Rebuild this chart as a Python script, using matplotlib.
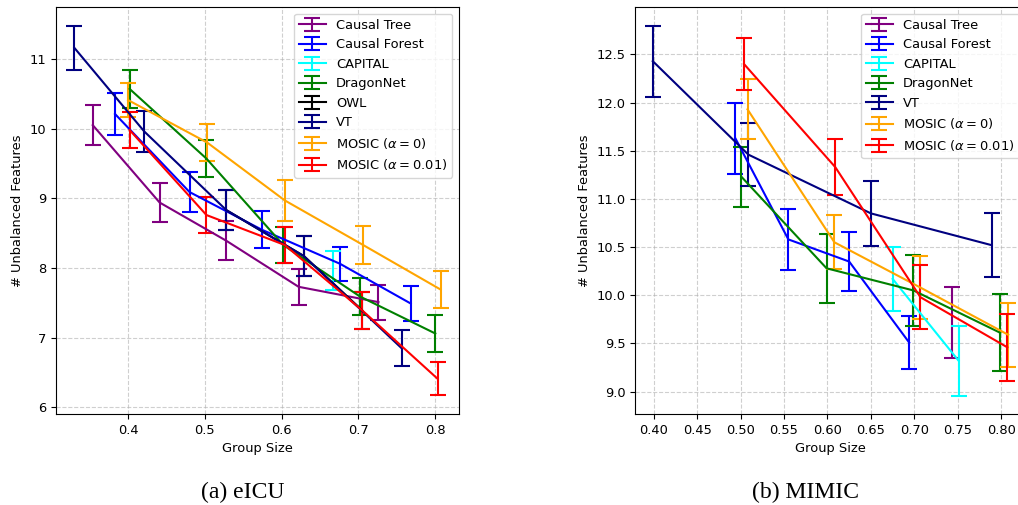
import numpy as np
import matplotlib
matplotlib.use('Agg')
import matplotlib.pyplot as plt

plt.rcParams['font.size'] = 9.4

methods = ['Causal Tree', 'Causal Forest', 'CAPITAL', 'DragonNet', 'OWL', 'VT',
           r'MOSIC ($\alpha=0$)', r'MOSIC ($\alpha=0.01$)']
colors = ['purple', 'blue', 'cyan', 'green', 'black', 'navy', 'orange', 'red']

# eICU: (group size, # unbalanced features, error) per method
eicu_x = {
    'Causal Tree': [0.354, 0.441, 0.528, 0.622, 0.726],
    'Causal Forest': [0.383, 0.480, 0.574, 0.676, 0.768],
    'CAPITAL': [0.667],
    'DragonNet': [0.402, 0.502, 0.602, 0.702, 0.800],
    'OWL': [0.528, 0.629, 0.705],
    'VT': [0.330, 0.421, 0.528, 0.629, 0.756],
    r'MOSIC ($\alpha=0$)': [0.400, 0.503, 0.604, 0.706, 0.807],
    r'MOSIC ($\alpha=0.01$)': [0.402, 0.502, 0.604, 0.705, 0.803],
}
eicu_y = {
    'Causal Tree': [10.05, 8.94, 8.39, 7.73, 7.51],
    'Causal Forest': [10.21, 9.09, 8.55, 8.06, 7.49],
    'CAPITAL': [7.96],
    'DragonNet': [10.57, 9.57, 8.33, 7.59, 7.06],
    'OWL': [8.83, 8.17, 7.39],
    'VT': [11.16, 9.96, 8.83, 8.17, 6.85],
    r'MOSIC ($\alpha=0$)': [10.41, 9.80, 8.97, 8.33, 7.69],
    r'MOSIC ($\alpha=0.01$)': [9.98, 8.76, 8.33, 7.39, 6.41],
}
eicu_err = {
    'Causal Tree': [0.29, 0.28, 0.28, 0.26, 0.25],
    'Causal Forest': [0.30, 0.29, 0.27, 0.24, 0.25],
    'CAPITAL': [0.28],
    'DragonNet': [0.27, 0.26, 0.26, 0.26, 0.26],
    'OWL': [0.29, 0.29, 0.26],
    'VT': [0.32, 0.29, 0.29, 0.29, 0.26],
    r'MOSIC ($\alpha=0$)': [0.24, 0.26, 0.29, 0.27, 0.27],
    r'MOSIC ($\alpha=0.01$)': [0.26, 0.26, 0.26, 0.26, 0.24],
}

# MIMIC
mimic_x = {
    'Causal Tree': [0.743],
    'Causal Forest': [0.494, 0.555, 0.625, 0.694],
    'CAPITAL': [0.675, 0.751],
    'DragonNet': [0.501, 0.599, 0.699, 0.799],
    'VT': [0.399, 0.509, 0.650, 0.789],
    r'MOSIC ($\alpha=0$)': [0.508, 0.608, 0.707, 0.808],
    r'MOSIC ($\alpha=0.01$)': [0.504, 0.609, 0.707, 0.807],
}
mimic_y = {
    'Causal Tree': [9.72],
    'Causal Forest': [11.63, 10.58, 10.35, 9.51],
    'CAPITAL': [10.17, 9.32],
    'DragonNet': [11.23, 10.28, 10.05, 9.61],
    'VT': [12.43, 11.46, 10.85, 10.52],
    r'MOSIC ($\alpha=0$)': [11.93, 10.55, 10.08, 9.59],
    r'MOSIC ($\alpha=0.01$)': [12.40, 11.33, 9.98, 9.46],
}
mimic_err = {
    'Causal Tree': [0.37],
    'Causal Forest': [0.37, 0.32, 0.31, 0.28],
    'CAPITAL': [0.33, 0.36],
    'DragonNet': [0.31, 0.36, 0.37, 0.40],
    'VT': [0.37, 0.33, 0.34, 0.33],
    r'MOSIC ($\alpha=0$)': [0.31, 0.28, 0.33, 0.33],
    r'MOSIC ($\alpha=0.01$)': [0.27, 0.29, 0.33, 0.35],
}

fig = plt.figure(figsize=(10.18, 5.05), dpi=100)
ax1 = fig.add_axes([56 / 1018, 91 / 505, 403 / 1018, 407 / 505])
ax2 = fig.add_axes([635 / 1018, 91 / 505, 391 / 1018, 407 / 505])


def draw(ax, xs, ys, errs):
    for m, c in zip(methods, colors):
        if m not in xs:
            continue
        ax.errorbar(xs[m], ys[m], yerr=errs[m], color=c, label=m,
                    linewidth=1.5, elinewidth=1.5, capsize=5.5, capthick=1.5)
    ax.set_xlabel('Group Size')
    ax.set_ylabel('# Unbalanced Features')
    ax.grid(True, linestyle='--', alpha=0.6)
    ax.legend(loc='upper right')


draw(ax1, eicu_x, eicu_y, eicu_err)
draw(ax2, mimic_x, mimic_y, mimic_err)

fig.text(243 / 1018, 1 - 492 / 505, '(a) eICU', ha='center', va='center',
         fontsize=17, family='Liberation Serif')
fig.text(805 / 1018, 1 - 492 / 505, '(b) MIMIC', ha='center', va='center',
         fontsize=17, family='Liberation Serif')

fig.savefig('out.png', dpi=100)
